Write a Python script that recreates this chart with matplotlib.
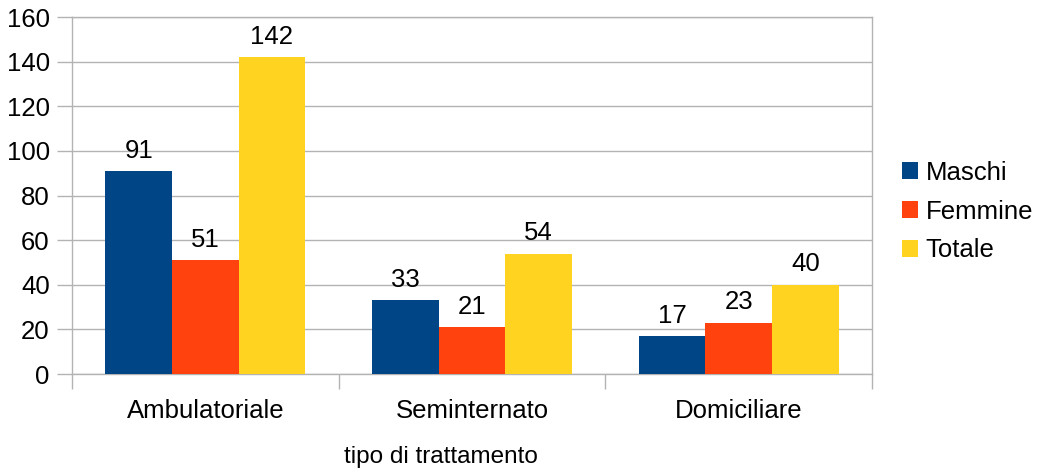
import matplotlib.pyplot as plt
import numpy as np

plt.rcParams['font.family'] = ['Liberation Sans', 'DejaVu Sans']

categories = ['Ambulatoriale', 'Seminternato', 'Domiciliare']
series_names = ['Maschi', 'Femmine', 'Totale']
maschi = [91, 33, 17]
femmine = [51, 21, 23]
totale = [142, 54, 40]
colors = ['#004586', '#ff420e', '#ffd320']
y_ticks = [0, 20, 40, 60, 80, 100, 120, 140, 160]

grey = '#b3b3b3'
fs = 18.5

fig = plt.figure(figsize=(10.42, 4.73), dpi=100)
ax = fig.add_axes([72 / 1042, 1 - 374 / 473, 800 / 1042, 357 / 473])

x = np.arange(len(categories))
width = 0.25
for i, (name, vals) in enumerate(zip(series_names, [maschi, femmine, totale])):
    bars = ax.bar(x + (i - 1) * width, vals, width, color=colors[i], label=name, zorder=3)
    ax.bar_label(bars, padding=6, fontsize=fs)

ax.set_xlim(-0.5, len(categories) - 0.5)
ax.set_ylim(0, 160)
ax.set_yticks(y_ticks)
ax.set_xticks(x)
ax.set_xticklabels(categories, fontsize=fs)
ax.set_xticks(np.arange(len(categories) + 1) - 0.5, minor=True)
ax.tick_params(axis='x', which='major', length=0, pad=18)
ax.tick_params(axis='x', which='minor', length=11, color=grey, width=1)
ax.tick_params(axis='y', length=11, color=grey, width=1, labelsize=fs, pad=5)
ax.grid(axis='y', color=grey, linewidth=1, zorder=0)
for s in ax.spines.values():
    s.set_color(grey)
    s.set_linewidth(1)

ax.legend(loc='center left', bbox_to_anchor=(1.025, 0.455), frameon=False, fontsize=fs,
          handlelength=0.6, handleheight=0.6, handletextpad=0.3, labelspacing=0.58,
          borderaxespad=0)

fig.text(441 / 1042, 1 - 457 / 473, 'tipo di trattamento', ha='center', va='center', fontsize=17.5)

fig.savefig('out.png', dpi=100)
